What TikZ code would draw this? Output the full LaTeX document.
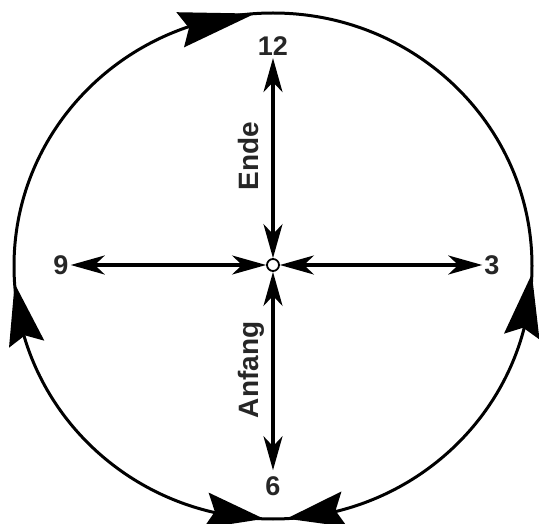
\documentclass[tikz,border=0pt]{standalone}
\usepackage{fontspec}
\setmainfont{Liberation Sans}
\usetikzlibrary{arrows.meta,calc}
\newcommand\rimhead[2]{%
  \coordinate (hT) at ($(O)+({259*cos(#1)},{253*sin(#1)})$);
  \coordinate (hB) at ($(O)+({259*cos(#2)},{253*sin(#2)})$);
  \fill (hT) -- ($(hB)!18pt!90:(hT)$) -- ($(hB)!9pt!(hT)$) -- ($(hB)!18pt!-90:(hT)$) -- cycle;}
\begin{document}
\begin{tikzpicture}[x=1pt,y=1pt,
  lbl/.style={font=\fontsize{27}{30}\selectfont\bfseries, inner sep=2pt, text=black!85},
  rlbl/.style={font=\fontsize{28}{32}\selectfont\bfseries, rotate=90, anchor=base, inner sep=0pt, text=black!85},
  armtip/.tip={Stealth[length=34pt,width=19pt,inset=10pt]},
  arm/.style={line width=3.2pt, armtip-armtip},
  rim/.style={line width=3pt}]
\useasboundingbox (0,0) rectangle (539,523);
\coordinate (O) at (273,257);
\draw[rim] (O) ellipse [x radius=259pt, y radius=253pt];
\rimhead{94}{111}
\rimhead{184}{198}
\rimhead{-1.8}{-16.2}
\rimhead{268}{255}
\rimhead{273}{286}
\node[circle,draw,fill=white,line width=1.8pt,minimum size=12pt,inner sep=0pt] (c) at (273,258) {};
\node[lbl] (n12) at (273,476.5) {12};
\node[lbl] (n9) at (61,258) {9};
\node[lbl] (n3) at (492,258) {3};
\node[lbl] (n6) at (273,37) {6};
\draw[arm] (c) -- (n12);
\draw[arm] (c) -- (n9);
\draw[arm] (c) -- (n3);
\draw[arm, shorten >=4pt] (c) -- (n6);
\node[rlbl] (ende) at (258,367) {Ende};
\node[rlbl] (anf) at (258,153) {Anfang};
\end{tikzpicture}
\end{document}
